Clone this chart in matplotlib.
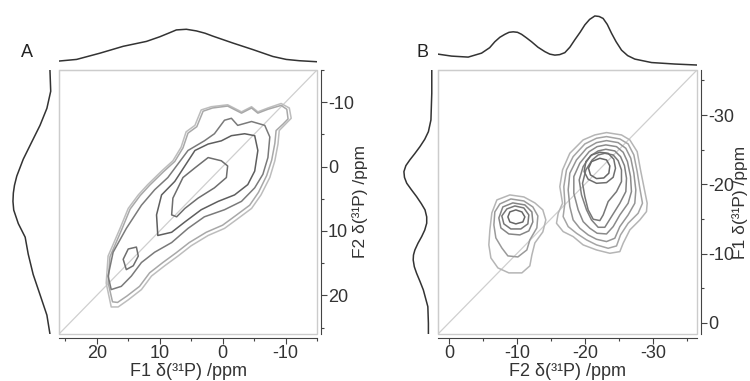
import matplotlib.pyplot as plt
from matplotlib.patches import Polygon, Rectangle
from matplotlib.ticker import MultipleLocator

plt.rcParams['font.family'] = ['Liberation Sans', 'DejaVu Sans']
plt.rcParams['axes.unicode_minus'] = False

# axis ranges (ppm), same on both axes of a panel
a_lim = (26.0, -15.0)
b_lim = (1.6, -36.5)

# projections (ppm, normalised intensity)
a_top_ppm = [26.0, 23.2, 19.5, 15.8, 12.1, 10.0, 8.6, 7.35, 5.76, 4.17, 2.8,
             1.54, -1.63, -4.81, -7.98, -10.1, -12.2, -14.9]
a_top_int = [0.03, 0.08, 0.27, 0.48, 0.63, 0.77, 0.88, 0.98, 1.0, 0.95, 0.88,
             0.79, 0.58, 0.38, 0.17, 0.08, 0.04, 0.01]
a_side_ppm = [-15.0, -11.7, -9.05, -6.41, -3.79, -1.15, 1.48, 2.9, 4.11, 5.4,
              6.75, 8.85, 10.96, 13.59, 16.75, 19.9, 23.07, 26.0]
a_side_int = [0.03, 0.01, 0.11, 0.29, 0.51, 0.73, 0.9, 0.96, 0.99, 1.0,
              0.98, 0.86, 0.68, 0.6, 0.47, 0.29, 0.11, 0.03]

b_top_ppm = [1.6, -0.4, -2.84, -4.81, -6.0, -6.76, -7.5, -8.24, -8.85, -9.46,
             -10.1, -10.69, -11.4, -12.16, -13.1, -14.12, -14.85, -15.59,
             -16.3, -17.06, -17.8, -18.53, -19.3, -20.0, -20.7, -21.47, -22.1,
             -22.69, -23.3, -23.93, -24.6, -25.4, -26.3, -27.35, -29.81,
             -33.24, -36.5]
b_top_int = [0.23, 0.19, 0.17, 0.25, 0.36, 0.48, 0.57, 0.63, 0.67, 0.68,
             0.67, 0.63, 0.56, 0.48, 0.37, 0.28, 0.23, 0.21, 0.22, 0.26,
             0.37, 0.52, 0.67, 0.82, 0.93, 1.0, 0.99, 0.95, 0.83, 0.65, 0.48,
             0.31, 0.2, 0.13, 0.06, 0.03, 0.01]
b_side_ppm = [-36.5, -33.15, -29.29, -27.6, -26.5, -25.44, -24.4, -23.52,
              -22.7, -21.83, -21.0, -20.16, -19.2, -18.23, -17.2, -16.31,
              -15.3, -14.39, -13.4, -12.45, -11.5, -10.53, -9.8, -9.09, -8.1,
              -7.17, -6.0, -4.76, -2.35, 0.04, 1.6]
b_side_int = [0.01, 0.01, 0.04, 0.13, 0.26, 0.43, 0.62, 0.79, 0.93, 1.0,
              0.98, 0.9, 0.73, 0.55, 0.38, 0.25, 0.19, 0.19, 0.26, 0.37,
              0.5, 0.61, 0.66, 0.67, 0.63, 0.55, 0.43, 0.31, 0.15, 0.13, 0.13]

# panel A contours, (F1, F2) in ppm, outermost level first
a_lvl1 = [(17.7, 21.8), (18.5, 18.1), (18.2, 13.9), (16.3, 9.6), (15.0, 6.5),
          (13.4, 4.4), (11.9, 2.8), (9.7, 0.7), (7.9, -0.9), (6.6, -3.0),
          (5.8, -5.4), (4.4, -6.4), (3.4, -8.8), (1.8, -9.3), (-0.8, -9.6),
          (-3.0, -8.5), (-4.6, -9.3), (-5.6, -8.5), (-7.2, -9.1), (-9.3, -9.8),
          (-10.6, -9.1), (-10.9, -7.5), (-10.1, -6.7), (-9.0, -5.6),
          (-8.8, -3.5), (-8.3, -0.9), (-7.5, 1.7), (-6.1, 4.4), (-4.6, 6.5),
          (-2.4, 8.1), (-0.3, 9.6), (2.3, 10.7), (5.0, 12.3), (7.1, 13.9),
          (9.2, 15.4), (11.3, 17.0), (12.9, 19.1), (15.0, 20.7), (16.6, 21.8)]
a_lvl2 = [(17.5, 21.0), (18.2, 18.0), (17.9, 14.0), (16.0, 9.7), (14.7, 6.6),
          (13.1, 4.5), (11.6, 2.9), (9.4, 0.8), (7.6, -0.8), (6.3, -2.9),
          (5.5, -5.2), (4.1, -6.2), (3.1, -8.6), (1.6, -9.1), (-0.8, -9.4),
          (-3.0, -8.3), (-4.6, -9.1), (-5.6, -8.3), (-7.2, -8.9), (-9.3, -9.5),
          (-10.2, -8.9), (-10.4, -7.4), (-9.6, -6.6), (-8.5, -5.6),
          (-8.3, -3.6), (-7.8, -1.0), (-7.0, 1.4), (-5.7, 4.0), (-4.3, 6.0),
          (-2.1, 7.6), (0.0, 9.1), (2.6, 10.2), (5.3, 11.8), (7.4, 13.4),
          (9.5, 14.9), (11.6, 16.5), (13.2, 18.6), (15.2, 20.1), (16.7, 21.1)]
a_lvl3 = [(17.7, 19.1), (18.2, 17.0), (17.4, 13.3), (15.3, 9.6), (12.9, 6.0),
          (10.8, 3.6), (8.7, 1.7), (7.1, -0.4), (5.5, -2.5), (2.9, -4.0),
          (1.3, -5.1), (-0.3, -7.2), (-1.4, -7.5), (-2.4, -6.4), (-4.6, -7.0),
          (-6.7, -6.4), (-7.5, -4.6), (-7.2, -1.4), (-6.4, 1.2), (-5.1, 3.3),
          (-3.0, 5.4), (-0.3, 6.7), (2.9, 7.8), (5.5, 9.6), (8.1, 11.8),
          (10.8, 13.3), (12.9, 14.9), (14.5, 17.0), (16.1, 18.6)]
a_lvl4 = [(10.3, 10.7), (10.5, 7.5), (9.7, 4.4), (7.6, 2.3), (6.0, -0.1),
          (4.4, -2.5), (2.3, -3.5), (0.2, -4.0), (-1.4, -4.8), (-3.5, -5.1),
          (-5.1, -4.8), (-5.6, -2.5), (-5.1, 0.7), (-4.0, 2.8), (-1.9, 4.4),
          (0.7, 5.4), (3.4, 6.7), (6.0, 8.6), (8.1, 10.2)]
a_lvl5 = [(8.1, 7.5), (7.9, 4.9), (6.3, 1.7), (4.4, 0.2), (2.3, -1.4),
          (0.2, -0.9), (-0.8, -0.1), (-0.6, 1.7), (1.3, 3.3), (3.9, 4.9),
          (6.0, 6.5), (7.3, 7.8)]
a_island = [(15.0, 12.8), (13.7, 12.5), (13.4, 13.9), (14.2, 15.4),
            (15.3, 16.0), (15.8, 14.4)]

# panel B contours, (F2, F1) in ppm; small cross peak near -10 ppm
b_small1 = [(-7.06, -17.75), (-8.97, -18.47), (-11.03, -18.18), (-12.65, -17.32),
            (-13.82, -16.31), (-14.26, -14.86), (-13.82, -13.13), (-12.65, -11.54),
            (-12.21, -9.81), (-11.91, -8.23), (-10.74, -7.22), (-8.82, -7.22),
            (-7.21, -7.94), (-6.18, -9.38), (-5.88, -11.26), (-6.03, -13.42),
            (-6.32, -15.87)]
b_small2 = [(-7.5, -17.17), (-9.12, -17.89), (-11.03, -17.6), (-12.35, -16.74),
            (-13.09, -15.44), (-12.94, -13.71), (-11.91, -11.98), (-11.47, -10.53),
            (-10.15, -9.52), (-8.68, -9.67), (-7.79, -10.82), (-6.91, -12.27),
            (-6.62, -14.14), (-6.76, -16.02)]
b_small3 = [(-7.94, -16.74), (-9.41, -17.32), (-11.18, -17.03), (-12.21, -16.02),
            (-12.35, -14.57), (-11.76, -13.28), (-10.44, -12.7), (-8.82, -12.84),
            (-7.65, -13.71), (-7.35, -15.15)]
b_small4 = [(-8.53, -16.45), (-9.71, -16.88), (-11.03, -16.59), (-11.76, -15.58),
            (-11.62, -14.29), (-10.59, -13.56), (-9.12, -13.56), (-8.09, -14.29),
            (-7.79, -15.44)]
b_small5 = [(-8.97, -16.02), (-9.85, -16.31), (-10.74, -16.02), (-11.18, -15.3),
            (-10.88, -14.57), (-9.85, -14.29), (-8.97, -14.57), (-8.68, -15.3)]

# main peak near -22 ppm
b_big1 = [(-23.19, -27.47), (-25.39, -27.13), (-26.62, -26.41), (-27.7, -24.72),
          (-28.19, -22.08), (-28.68, -19.67), (-29.17, -17.27), (-29.07, -16.07),
          (-28.09, -14.86), (-26.62, -13.42), (-25.64, -11.5), (-25.15, -10.29),
          (-23.68, -10.05), (-21.72, -10.53), (-19.75, -11.26), (-18.28, -12.46),
          (-16.81, -13.18), (-15.83, -14.38), (-16.08, -15.82), (-16.72, -17.27),
          (-16.32, -19.67), (-16.72, -22.08), (-17.79, -24.48), (-19.75, -26.41),
          (-21.47, -27.13)]
b_big2 = [(-23.19, -26.89), (-25.15, -26.55), (-26.37, -25.83), (-27.21, -24.24),
          (-27.7, -21.84), (-28.09, -19.43), (-28.48, -17.27), (-27.84, -15.82),
          (-26.37, -14.38), (-25.25, -12.7), (-24.66, -11.11), (-23.43, -10.77),
          (-21.72, -11.26), (-20.25, -11.98), (-18.77, -12.94), (-17.55, -13.9),
          (-16.81, -15.34), (-17.06, -17.27), (-16.91, -19.67), (-17.3, -22.08),
          (-18.28, -24.0), (-20.0, -25.83), (-21.72, -26.65)]
b_big3 = [(-23.19, -26.31), (-24.9, -26.02), (-26.03, -25.2), (-26.76, -23.76),
          (-27.21, -21.6), (-27.5, -19.19), (-27.35, -17.27), (-26.37, -15.58),
          (-25.15, -13.9), (-24.41, -12.22), (-23.19, -11.74), (-21.72, -12.07),
          (-20.49, -12.7), (-19.26, -13.66), (-18.28, -14.86), (-17.79, -16.79),
          (-17.55, -19.19), (-17.79, -21.6), (-18.77, -23.52), (-20.25, -25.2),
          (-21.72, -26.02)]
b_big4 = [(-23.09, -25.69), (-24.66, -25.44), (-25.64, -24.63), (-26.27, -23.28),
          (-26.72, -21.12), (-26.86, -18.95), (-26.37, -17.27), (-25.15, -15.58),
          (-24.17, -13.9), (-23.19, -12.84), (-21.81, -12.94), (-20.74, -13.66),
          (-19.75, -14.62), (-19.02, -16.31), (-18.38, -18.71), (-18.38, -21.12),
          (-19.26, -23.04), (-20.64, -24.72), (-21.81, -25.44)]
b_big5 = [(-23.09, -25.06), (-24.41, -24.82), (-25.25, -24.0), (-25.83, -22.7),
          (-26.13, -20.88), (-26.03, -18.95), (-25.15, -17.27), (-23.92, -15.34),
          (-22.94, -13.8), (-21.96, -13.8), (-20.98, -14.86), (-20.25, -16.31),
          (-19.51, -18.47), (-19.17, -20.63), (-19.75, -22.56), (-20.83, -24.1),
          (-21.96, -24.82)]
b_big6 = [(-22.94, -24.48), (-24.17, -24.24), (-24.9, -23.42), (-25.39, -22.08),
          (-25.39, -20.39), (-24.66, -18.95), (-23.43, -17.51), (-22.7, -15.58),
          (-22.21, -14.77), (-21.23, -14.96), (-20.49, -16.31), (-20.0, -18.23),
          (-19.66, -20.15), (-20.15, -22.08), (-21.08, -23.52), (-21.96, -24.24)]
b_big7 = [(-22.21, -24.63), (-23.43, -24.48), (-24.26, -23.62), (-24.51, -22.32),
          (-24.17, -21.02), (-23.19, -20.25), (-21.72, -20.15), (-20.49, -20.73),
          (-19.9, -21.84), (-20.15, -23.28), (-20.98, -24.24)]
b_big8 = [(-22.21, -23.76), (-23.19, -23.52), (-23.68, -22.66), (-23.53, -21.6),
          (-22.79, -20.92), (-21.72, -20.83), (-20.83, -21.36), (-20.54, -22.32),
          (-20.98, -23.28)]

a_contours = [a_lvl1, a_lvl2, a_lvl3, a_lvl4, a_lvl5, a_island]
a_colors = ['#bdbdbd', '#a8a8a8', '#7a7a7a', '#5e5e5e', '#6e6e6e', '#6e6e6e']
b_contours = [b_small1, b_small2, b_small3, b_small4, b_small5,
              b_big1, b_big2, b_big3, b_big4, b_big5, b_big6, b_big7, b_big8]
b_colors = ['#b5b5b5', '#9a9a9a', '#858585', '#777777', '#666666',
            '#b5b5b5', '#a5a5a5', '#959595', '#8a8a8a', '#808080',
            '#777777', '#6e6e6e', '#666666']

W, H = 750, 381
fig = plt.figure(figsize=(7.5, 3.81), dpi=100)


def rect(x0, y0, x1, y1):
    # pixel box (top-left origin) -> figure fraction
    return [x0 / W, 1 - y1 / H, (x1 - x0) / W, (y1 - y0) / H]


def spectrum(box, lim, contours, colors, xlabel, ylabel):
    ax = fig.add_axes(rect(*box))
    ax.set_xlim(lim)
    ax.set_ylim(lim)
    ax.plot(lim, lim, color='#cfcfcf', lw=0.9, zorder=1)
    for pts, c in zip(contours, colors):
        ax.add_patch(Polygon(pts, closed=True, fill=False, ec=c, lw=1.1,
                             joinstyle='round', zorder=2))
    ax.yaxis.tick_right()
    ax.yaxis.set_label_position('right')
    for s in ['left', 'top']:
        ax.spines[s].set_color('#cccccc')
    for s in ['right', 'bottom']:
        ax.spines[s].set_color('#444444')
        ax.spines[s].set_position(('outward', 3))
    ax.add_patch(Rectangle((0, 0), 1, 1, transform=ax.transAxes, fill=False,
                           ec='#cccccc', lw=1.0, clip_on=False))
    for a in (ax.xaxis, ax.yaxis):
        a.set_major_locator(MultipleLocator(10))
        a.set_minor_locator(MultipleLocator(5))
    ax.tick_params(which='both', direction='out', color='#444444',
                   labelcolor='#333333', labelsize=13, width=0.8, pad=1)
    ax.tick_params(which='major', length=4)
    ax.tick_params(which='minor', length=2.5)
    ax.set_xlabel(xlabel, fontsize=13, color='#333333', labelpad=1)
    ax.set_ylabel(ylabel, fontsize=12.5, color='#333333')
    # left edge of the rotated label, in axes fraction
    ax.yaxis.set_label_coords(1.137, 0.5)
    return ax


def projection(box, ppm, inten, lim, ilim, side=False):
    ax = fig.add_axes(rect(*box))
    if side:
        ax.plot(inten, ppm, color='#333333', lw=1.1, solid_joinstyle='round')
        ax.set_ylim(lim)
        ax.set_xlim(ilim)
    else:
        ax.plot(ppm, inten, color='#333333', lw=1.1, solid_joinstyle='round')
        ax.set_xlim(lim)
        ax.set_ylim(ilim)
    ax.axis('off')
    return ax


spectrum((59, 70, 317, 334), a_lim, a_contours, a_colors,
         'F1 δ(³¹P) /ppm', 'F2 δ(³¹P) /ppm')
projection((59, 26, 317, 64), a_top_ppm, a_top_int, a_lim, (-0.06, 1.1))
projection((8, 70, 53, 334), a_side_ppm, a_side_int, a_lim, (1.13, -0.05), side=True)

spectrum((438, 70, 697, 334), b_lim, b_contours, b_colors,
         'F2 δ(³¹P) /ppm', 'F1 δ(³¹P) /ppm')
projection((438, 12, 697, 68), b_top_ppm, b_top_int, b_lim, (-0.05, 1.08))
projection((398, 70, 436, 334), b_side_ppm, b_side_int, b_lim, (1.21, -0.14), side=True)

fig.text(21 / W, 1 - 57 / H, 'A', fontsize=13, color='#222222')
fig.text(416 / W, 1 - 57 / H, 'B', fontsize=13, color='#222222')

fig.savefig('out.png', dpi=100)
